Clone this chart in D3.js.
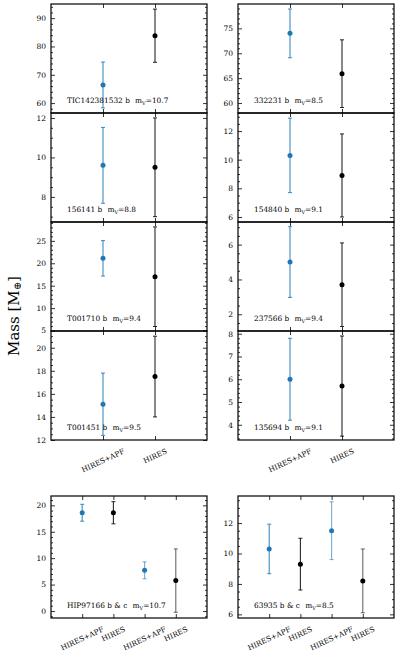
<!DOCTYPE html>
<html>
<head>
<meta charset="utf-8">
<script src="https://cdn.jsdelivr.net/npm/d3@7"></script>
<style>
  body { margin: 0; background: #fff; }
  svg { display: block; }
  text { font-family: "DejaVu Serif", serif; fill: #000; }
</style>
</head>
<body>
<svg id="chart" width="399" height="656"></svg>
<script>
"use strict";

// single planet systems (left column top→bottom, then right column)
const names = ["TIC142381532 b", "156141 b", "T001710 b", "T001451 b",
               "332231 b", "154840 b", "237566 b", "135694 b"];
const vmags = ["10.7", "8.8", "9.4", "9.5", "8.5", "9.1", "9.4", "9.1"];
const massApf = [66.4, 9.6, 21.1, 15.1, 74.0, 10.3, 5.0, 6.0];
const errApf = [8.1, 1.92, 3.95, 2.7, 4.9, 2.6, 2.03, 1.8];
const massHires = [83.8, 9.5, 17.0, 17.5, 65.9, 8.9, 3.7, 5.7];
const errHires = [9.4, 2.5, 11.1, 3.5, 6.8, 2.9, 2.4, 2.2];
const yLimits = [[56.5, 95], [6.73, 12.25], [4.9, 29.2], [12, 21.45],
                 [58, 79.9], [5.65, 13.26], [1.04, 7.3], [3.33, 8.12]];
const yTicks = [[60, 70, 80, 90], [8, 10, 12], [5, 10, 15, 20, 25], [12, 14, 16, 18, 20],
                [60, 65, 70, 75], [6, 8, 10, 12], [2, 4, 6], [4, 5, 6, 7, 8]];
const singleCats = ["HIRES+APF", "HIRES"];

// two planet systems
const multiNames = ["HIP97166 b & c", "63935 b & c"];
const multiVmags = ["10.7", "8.5"];
const multiMass = [[18.6, 18.6, 7.7, 5.75], [10.3, 9.3, 11.5, 8.2]];
const multiErr = [[1.6, 2.1, 1.6, 6.0], [1.63, 1.7, 1.9, 2.1]];
const multiLimits = [[-1.33, 21.77], [5.76, 13.78]];
const multiTicks = [[0, 5, 10, 15, 20], [6, 8, 10, 12]];
const multiCats = ["HIRES+APF", "HIRES", "HIRES+APF", "HIRES"];

const BLUE = "#1f77b4";
const BLACK = "#000";

const svg = d3.select("#chart");

const colX = [51, 238];
const panelW = 156;
const rowY = [4, 113, 222, 331];
const panelH = 109;
const bottomY = 496;
const bottomH = 122;

function minorTicks(ticks, domain) {
  let step = ticks[1] - ticks[0];
  let ndiv = [1, 5, 10].includes(step) ? 5 : 4;
  let m = step / ndiv;
  let out = [];
  let start = Math.ceil(domain[0] / m - 1e-6);
  for (let k = start; k * m <= domain[1] + 1e-9; k++) {
    let v = +(k * m).toFixed(6);
    if (!ticks.some(t => Math.abs(t - v) < 1e-6)) out.push(v);
  }
  return out;
}

function drawPanel(x0, y0, h, opts) {
  let g = svg.append("g").attr("transform", `translate(${x0},${y0})`);
  let n = opts.cats.length;
  let x = d3.scaleLinear().domain([0, n + 1]).range([0, panelW]);
  let y = d3.scaleLinear().domain(opts.limits).range([h, 0]);
  let minor = minorTicks(opts.ticks, opts.limits);

  // y ticks, left with labels
  let left = g.append("g")
    .call(d3.axisLeft(y).tickValues(opts.ticks).tickSize(-4).tickPadding(5).tickFormat(d3.format("d")));
  left.select(".domain").remove();
  left.selectAll("text").style("font-size", "7.5px").style("font-family", "DejaVu Serif");
  g.append("g").call(d3.axisLeft(y).tickValues(minor).tickSize(-2).tickFormat(""))
    .select(".domain").remove();

  // y ticks, right mirror
  g.append("g").attr("transform", `translate(${panelW},0)`)
    .call(d3.axisRight(y).tickValues(opts.ticks).tickSize(-4).tickFormat(""))
    .select(".domain").remove();
  g.append("g").attr("transform", `translate(${panelW},0)`)
    .call(d3.axisRight(y).tickValues(minor).tickSize(-2).tickFormat(""))
    .select(".domain").remove();

  // x ticks top and bottom
  let pos = d3.range(1, n + 1);
  g.append("g").attr("transform", `translate(0,${h})`)
    .call(d3.axisBottom(x).tickValues(pos).tickSize(-4).tickFormat(""))
    .select(".domain").remove();
  g.append("g")
    .call(d3.axisTop(x).tickValues(pos).tickSize(-4).tickFormat(""))
    .select(".domain").remove();

  g.selectAll(".tick line").attr("stroke", "#000").attr("stroke-width", 0.8);

  // error bars
  let pts = opts.mass.map((m, i) => ({
    x: x(i + 1), m: m, e: opts.err[i],
    color: i % 2 === 0 ? BLUE : BLACK,
    alpha: i < 2 ? 0.85 : 0.6
  }));
  let bars = g.append("g").selectAll("g").data(pts).join("g");
  bars.append("line")
    .attr("x1", d => d.x).attr("x2", d => d.x)
    .attr("y1", d => y(d.m - d.e)).attr("y2", d => y(d.m + d.e))
    .attr("stroke", d => d.color).attr("stroke-opacity", d => d.alpha).attr("stroke-width", 1.1);
  [-1, 1].forEach(s => {
    bars.append("line")
      .attr("x1", d => d.x - 2).attr("x2", d => d.x + 2)
      .attr("y1", d => y(d.m + s * d.e)).attr("y2", d => y(d.m + s * d.e))
      .attr("stroke", d => d.color).attr("stroke-opacity", d => d.alpha).attr("stroke-width", 1);
  });
  bars.append("circle")
    .attr("cx", d => d.x).attr("cy", d => y(d.m)).attr("r", 2.5)
    .attr("fill", d => d.color);

  // label
  let t = g.append("text")
    .attr("x", 16).attr("y", h - 10)
    .style("font-size", "7.4px");
  t.append("tspan").text(opts.name + "\u2002\u2009m");
  t.append("tspan").text("V").style("font-size", "5px").attr("dy", 1.5);
  t.append("tspan").text("=" + opts.vmag).attr("dy", -1.5);

  // x labels
  if (opts.xlabels) {
    let deg = 25;
    let ang = deg * Math.PI / 180;
    pos.forEach((p, i) => {
      let lab = g.append("text")
        .text(opts.cats[i])
        .style("font-size", "7.3px")
        .attr("text-anchor", "middle")
        .attr("dominant-baseline", "central");
      let L = lab.node().getComputedTextLength();
      let bh = L * Math.sin(ang) + 6 * Math.cos(ang);
      lab.attr("transform", `translate(${x(p)},${h + 8 + bh / 2}) rotate(${-deg})`);
    });
  }

  // frame
  g.append("rect").attr("width", panelW).attr("height", h)
    .attr("fill", "none").attr("stroke", "#000").attr("stroke-width", 1.2);
}

names.forEach((nm, i) => {
  let col = Math.floor(i / 4), row = i % 4;
  drawPanel(colX[col], rowY[row], panelH, {
    cats: singleCats,
    mass: [massApf[i], massHires[i]],
    err: [errApf[i], errHires[i]],
    limits: yLimits[i],
    ticks: yTicks[i],
    name: nm,
    vmag: vmags[i],
    xlabels: row === 3
  });
});

multiNames.forEach((nm, i) => {
  drawPanel(colX[i], bottomY, bottomH, {
    cats: multiCats,
    mass: multiMass[i],
    err: multiErr[i],
    limits: multiLimits[i],
    ticks: multiTicks[i],
    name: nm,
    vmag: multiVmags[i],
    xlabels: true
  });
});

// y axis title
let yl = svg.append("text")
  .attr("transform", "translate(19,316) rotate(-90)")
  .attr("text-anchor", "middle")
  .style("font-size", "15px");
yl.append("tspan").text("Mass [M");
yl.append("tspan").text("\u2295").style("font-size", "10px").attr("dy", 2);
yl.append("tspan").text("]").attr("dy", -2);
</script>
</body>
</html>
